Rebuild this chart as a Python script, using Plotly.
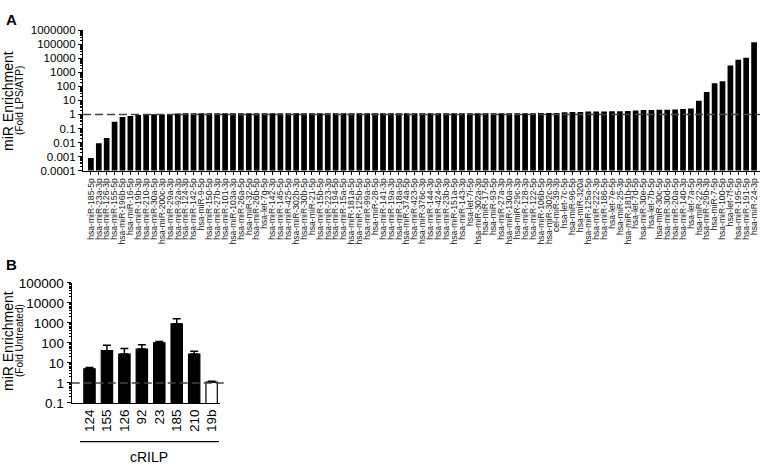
import plotly.graph_objects as go

# ---------------- Data ----------------
mirs_a = [
    "hsa-miR-185-5p", "hsa-miR-23a-3p", "hsa-miR-126-3p", "hsa-miR-155-5p", "hsa-miR-196b-5p",
    "hsa-miR-16-5p", "hsa-miR-19b-3p", "hsa-miR-210-3p", "hsa-miR-30a-5p", "hsa-miR-200c-3p",
    "hsa-miR-29a-3p", "hsa-miR-92a-3p", "hsa-miR-124-3p", "hsa-miR-142-5p", "hsa-miR-9-5p",
    "hsa-miR-150-5p", "hsa-miR-27b-3p", "hsa-miR-101-3p", "hsa-miR-103a-3p", "hsa-miR-26a-5p",
    "hsa-miR-32-5p", "hsa-miR-26b-5p", "hsa-let-7g-5p", "hsa-miR-142-3p", "hsa-miR-145-5p",
    "hsa-miR-425-5p", "hsa-miR-302b-3p", "hsa-miR-30b-5p", "hsa-miR-21-5p", "hsa-miR-15b-5p",
    "hsa-miR-223-3p", "hsa-miR-194-5p", "hsa-miR-15a-5p", "hsa-miR-181a-5p", "hsa-miR-125b-5p",
    "hsa-miR-99a-5p", "hsa-miR-28-5p", "hsa-miR-141-3p", "hsa-miR-19a-3p", "hsa-miR-18a-5p",
    "hsa-miR-374a-5p", "hsa-miR-423-5p", "hsa-miR-376c-3p", "hsa-miR-144-3p", "hsa-miR-424-5p",
    "hsa-miR-23b-3p", "hsa-miR-151a-5p", "hsa-miR-143-3p", "hsa-let-7i-5p", "hsa-miR-302a-3p",
    "hsa-miR-17-5p", "hsa-miR-93-5p", "hsa-miR-27a-3p", "hsa-miR-130a-3p", "hsa-miR-29c-3p",
    "hsa-miR-128-3p", "hsa-miR-122-5p", "hsa-miR-106b-5p", "hsa-miR-302c-3p", "cel-miR-39-3p",
    "hsa-let-7c-5p", "hsa-miR-96-5p", "hsa-miR-320a", "hsa-miR-125a-5p", "hsa-miR-222-3p",
    "hsa-miR-186-5p", "hsa-let-7e-5p", "hsa-miR-25-3p", "hsa-miR-181b-5p", "hsa-let-7d-5p",
    "hsa-miR-30e-5p", "hsa-let-7b-5p", "hsa-miR-30c-5p", "hsa-miR-30d-5p", "hsa-miR-20a-5p",
    "hsa-miR-140-3p", "hsa-let-7a-5p", "hsa-miR-22-3p", "hsa-miR-29b-3p", "hsa-miR-7-5p",
    "hsa-miR-100-5p", "hsa-let-7f-5p", "hsa-miR-195-5p", "hsa-miR-191-5p", "hsa-miR-24-3p",
]
fold_a = [
    0.0008, 0.009, 0.021, 0.30, 0.66, 0.78, 0.93, 1.0, 1.05, 1.05,
    1.07, 1.15, 1.2, 1.2, 1.2, 1.2, 1.2, 1.2, 1.2, 1.2,
    1.2, 1.2, 1.2, 1.2, 1.2, 1.2, 1.2, 1.2, 1.2, 1.2,
    1.2, 1.2, 1.2, 1.2, 1.2, 1.2, 1.2, 1.2, 1.2, 1.2,
    1.2, 1.2, 1.2, 1.2, 1.2, 1.22, 1.22, 1.22, 1.22, 1.22,
    1.22, 1.22, 1.22, 1.24, 1.24, 1.24, 1.24, 1.25, 1.25, 1.25,
    1.44, 1.5, 1.52, 1.6, 1.6, 1.6, 1.68, 1.7, 1.78, 1.88,
    2.08, 2.1, 2.2, 2.2, 2.3, 2.45, 2.7, 9.6, 40, 164,
    236, 3100, 8000, 11000, 137000,
]

mirs_b = ["124", "155", "126", "92", "23", "185", "210", "19b"]
fold_b = [5.1, 41, 28, 49, 102, 900, 28, 1.1]
err_b_upper = [0.8, 35, 24, 33, 17, 700, 10, 0.1]

ticks_a = [1e-4, 1e-3, 1e-2, 1e-1, 1, 10, 100, 1000, 1e4, 1e5, 1e6]
ticktext_a = ["0.0001", "0.001", "0.01", "0.1", "1", "10", "100", "1000", "10000", "100000", "1000000"]
ticks_b = [0.1, 1, 10, 100, 1000, 1e4, 1e5]
ticktext_b = ["0.1", "1", "10", "100", "1000", "10000", "100000"]

W, H = 763, 470
FONT = "Arial, Liberation Sans, sans-serif"

fig = go.Figure()

fig.add_trace(go.Bar(
    x=list(range(len(mirs_a))), y=fold_a, width=0.72,
    marker=dict(color="black", line=dict(width=0)),
    xaxis="x", yaxis="y", showlegend=False,
))

bar_colors_b = ["black"] * 7 + ["white"]
fig.add_trace(go.Bar(
    x=list(range(len(mirs_b))), y=fold_b, width=0.65,
    marker=dict(color=bar_colors_b, line=dict(color="black", width=1.2)),
    error_y=dict(type="data", symmetric=False, array=err_b_upper,
                 arrayminus=[0] * len(fold_b), color="black", thickness=1.5, width=4),
    xaxis="x2", yaxis="y2", showlegend=False,
))

axis_common = dict(showline=True, linecolor="black", linewidth=1.2, mirror=False,
                   showgrid=False, zeroline=False)

fig.update_layout(
    width=W, height=H,
    margin=dict(l=0, r=0, t=0, b=0),
    paper_bgcolor="white", plot_bgcolor="white",
    font=dict(family=FONT, color="black"),
    xaxis=dict(domain=[83 / W, 760 / W], anchor="y", range=[-1, 84.75],
               tickmode="array", tickvals=list(range(len(mirs_a))), ticktext=mirs_a,
               tickangle=-90, tickfont=dict(size=8.6, color="#222"),
               ticks="outside", ticklen=3, tickcolor="black", **axis_common),
    yaxis=dict(domain=[1 - 169 / H, 1 - 24 / H], anchor="x", type="log", range=[-4, 6],
               tickmode="array", tickvals=ticks_a, ticktext=ticktext_a,
               tickfont=dict(size=11.5), ticks="outside", ticklen=4, tickcolor="black",
               minor=dict(ticks="outside", ticklen=2, tickcolor="black", dtick="D1"),
               **axis_common),
    xaxis2=dict(domain=[71.7 / W, 220 / W], anchor="y2", range=[-1.02, 7.48],
                tickmode="array", tickvals=list(range(len(mirs_b))), ticktext=mirs_b,
                tickangle=-90, tickfont=dict(size=13.5), ticks="", **axis_common),
    yaxis2=dict(domain=[1 - 409 / H, 1 - 285 / H], anchor="x2", type="log", range=[-1, 5],
                tickmode="array", tickvals=ticks_b, ticktext=ticktext_b,
                tickfont=dict(size=13.5), ticks="outside", ticklen=4, tickcolor="black",
                minor=dict(ticks="outside", ticklen=2, tickcolor="black", dtick="D1"),
                **axis_common),
)

# dashed reference lines at 1
fig.add_shape(type="line", xref="x domain", yref="y", x0=0, x1=1, y0=1, y1=1,
              line=dict(color="#444", width=1.5, dash="8px,4px"), layer="above")
fig.add_shape(type="line", xref="x2 domain", yref="y2", x0=0, x1=1.05, y0=1, y1=1,
              line=dict(color="#444", width=1.5, dash="8px,4px"), layer="above")

# cRILP group line
fig.add_shape(type="line", xref="paper", yref="paper", x0=80 / W, x1=219 / W,
              y0=1 - 449 / H, y1=1 - 449 / H, line=dict(color="black", width=1.3))

ann = []
ann.append(dict(text="<b>A</b>", x=4 / W, y=1 - 2 / H, xanchor="left", yanchor="top",
                font=dict(size=15)))
ann.append(dict(text="<b>B</b>", x=4 / W, y=1 - 255 / H, xanchor="left", yanchor="top",
                font=dict(size=15)))
ann.append(dict(text="miR Enrichment", textangle=-90, x=8 / W, y=1 - 97 / H,
                xanchor="center", yanchor="middle", font=dict(size=14)))
ann.append(dict(text="(Fold LPS/ATP)", textangle=-90, x=20 / W, y=1 - 97 / H,
                xanchor="center", yanchor="middle", font=dict(size=10)))
ann.append(dict(text="miR Enrichment", textangle=-90, x=8 / W, y=1 - 345 / H,
                xanchor="center", yanchor="middle", font=dict(size=14)))
ann.append(dict(text="(Fold Untreated)", textangle=-90, x=20 / W, y=1 - 345 / H,
                xanchor="center", yanchor="middle", font=dict(size=10)))
ann.append(dict(text="cRILP", x=149 / W, y=1 - 465 / H, xanchor="center", yanchor="middle",
                font=dict(size=14)))
for a in ann:
    a.update(xref="paper", yref="paper", showarrow=False)
fig.update_layout(annotations=ann)

fig.write_html("out.html", config={"displayModeBar": False},
               post_script="document.body.style.margin='0';")
